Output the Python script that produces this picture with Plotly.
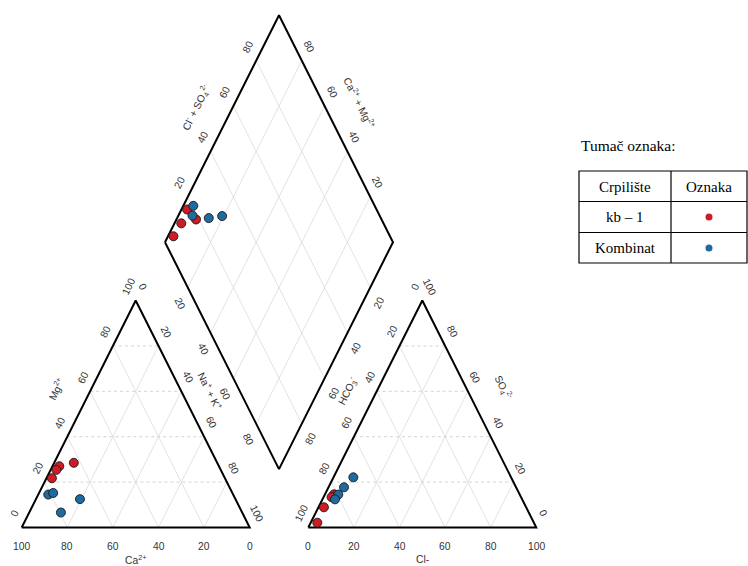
import math
import plotly.graph_objects as go

# ---------------- data (percent of meq) ----------------
sites = ["kb – 1", "kb – 1", "kb – 1", "kb – 1",
         "Kombinat", "Kombinat", "Kombinat", "Kombinat"]
ca_pct = [62.9, 70.0, 72.1, 75.9, 81.1, 78.6, 68.2, 79.5]
mg_pct = [28.5, 27.0, 25.4, 21.7, 14.5, 15.2, 12.5, 6.6]
nak_pct = [8.6, 3.0, 2.5, 2.4, 4.4, 6.2, 19.3, 13.9]
hco3_pct = [81.4, 88.7, 83.1, 95.0, 79.6, 82.1, 69.2, 75.5]
cl_pct = [4.0, 2.4, 3.5, 2.9, 5.9, 5.5, 8.7, 6.8]
so4_pct = [14.6, 8.9, 13.4, 2.1, 14.5, 12.4, 22.1, 17.7]

tick_values = [0, 20, 40, 60, 80, 100]
inner_ticks = [20, 40, 60, 80]
site_order = ["kb – 1", "Kombinat"]
legend_title = "Tumač oznaka:"
legend_headers = ["Crpilište", "Oznaka"]

# ---------------- styles ----------------
site_colors = {"kb – 1": "#cf1b26", "Kombinat": "#1f6a9e"}
FONT = "Liberation Sans, Arial, sans-serif"
SERIF = "Liberation Serif, Times New Roman, serif"
TXT = "#333333"
TICK_SIZE = 10.3

# ---------------- geometry ----------------
H = math.sqrt(3) / 2
G = 25.7
OX = 100 + G
ANG = 63.3

W, HT = 748, 566
PX0, SX, PY0, SY = 21.7, 2.28, 527.5, 2.621


def cat_xy(ca, mg, na):
    t = ca + mg + na
    return (na + mg / 2) / t * 100, mg / t * 100 * H


def an_xy(hc, cl, so):
    t = hc + cl + so
    return OX + (cl + so / 2) / t * 100, so / t * 100 * H


def dia_xy(c, a):
    lx, ly = 50 + G / 2, (G / 2 + 50) * math.sqrt(3)
    return lx + 0.5 * (a + c), ly + H * (a - c)


fig = go.Figure()

# grid lines
gx, gy, hx, hy = [], [], [], []
for v in inner_ticks:
    for off in (0, OX):
        hx += [off + v / 2, off + 100 - v / 2, None]
        hy += [v * H, v * H, None]
        gx += [off + v, off + v + (100 - v) / 2, None]
        gy += [0, (100 - v) * H, None]
        gx += [off + 100 - v, off + (100 - v) / 2, None]
        gy += [0, (100 - v) * H, None]
    p, q = dia_xy(0, v), dia_xy(100, v)
    gx += [p[0], q[0], None]; gy += [p[1], q[1], None]
    p, q = dia_xy(v, 0), dia_xy(v, 100)
    gx += [p[0], q[0], None]; gy += [p[1], q[1], None]

fig.add_trace(go.Scatter(x=gx, y=gy, mode="lines", hoverinfo="skip",
                         line=dict(color="#dadada", width=0.8), showlegend=False))
fig.add_trace(go.Scatter(x=hx, y=hy, mode="lines", hoverinfo="skip",
                         line=dict(color="#c8c8c8", width=0.8, dash="dot"), showlegend=False))

# borders
bx, by = [], []
for off in (0, OX):
    bx += [off, off + 100, off + 50, off, None]
    by += [0, 0, 100 * H, 0, None]
for c, a in [(0, 0), (0, 100), (100, 100), (100, 0), (0, 0)]:
    p = dia_xy(c, a)
    bx.append(p[0]); by.append(p[1])
fig.add_trace(go.Scatter(x=bx, y=by, mode="lines", hoverinfo="skip",
                         line=dict(color="black", width=2), showlegend=False))

# samples
for s in site_order:
    xs, ys = [], []
    for i, name in enumerate(sites):
        if name != s:
            continue
        p = cat_xy(ca_pct[i], mg_pct[i], nak_pct[i])
        q = an_xy(hco3_pct[i], cl_pct[i], so4_pct[i])
        t1 = ca_pct[i] + mg_pct[i] + nak_pct[i]
        t2 = hco3_pct[i] + cl_pct[i] + so4_pct[i]
        r = dia_xy(nak_pct[i] / t1 * 100, (cl_pct[i] + so4_pct[i]) / t2 * 100)
        for pt in (p, q, r):
            xs.append(pt[0]); ys.append(pt[1])
    fig.add_trace(go.Scatter(x=xs, y=ys, mode="markers", name=s, showlegend=False,
                             marker=dict(size=9, color=site_colors[s],
                                         line=dict(color="#1a1a1a", width=0.9))))

anns = []


def ann(x, y, text, xs=0, ys=0, angle=0, size=TICK_SIZE):
    anns.append(dict(x=x, y=y, xref="x", yref="y", text=text, showarrow=False,
                     xanchor="center", yanchor="middle",
                     xshift=xs, yshift=ys, textangle=angle,
                     font=dict(family=FONT, size=size, color=TXT)))


for v in tick_values:
    ann(100 - v, 0, str(v), 0, -18.5)                       # Ca base
    ann(v / 2, v * H, str(v), -7, 14, -ANG)                  # Mg left edge
    ann(v + (100 - v) / 2, (100 - v) * H, str(v), 7, 14, ANG)  # Na+K right edge
    ann(OX + v, 0, str(v), 0, -18.5)                         # Cl base
    ann(OX + (100 - v) / 2, (100 - v) * H, str(v), -7, 14, -ANG)  # HCO3
    ann(OX + 100 - v / 2, v * H, str(v), 7, 14, ANG)         # SO4

for v in inner_ticks:
    p = dia_xy(0, v); ann(p[0], p[1], str(v), -8, 14, -ANG)
    p = dia_xy(100 - v, 100); ann(p[0], p[1], str(v), 7, 14, ANG)
    p = dia_xy(v, 0); ann(p[0], p[1], str(v), -8, -16, ANG)
    p = dia_xy(100, 100 - v); ann(p[0], p[1], str(v), 9, -15, -ANG)

ann(50, 0, "Ca<sup>2+</sup>", 0, -32)
ann(OX + 50, 0, "Cl-", 0, -32)
ann(55 / 2, 55 * H, "Mg<sup>2+</sup>", -28.6, 14.4, -ANG)
ann(45 + 55 / 2, 55 * H, "Na<sup>+</sup> + K<sup>+</sup>", 23.2, 11.7, ANG)
ann(OX + 55 / 2, 55 * H, "HCO<sub>3</sub><sup>-</sup>", -23.2, 11.7, -ANG)
ann(OX + 100 - 55 / 2, 55 * H, "SO<sub>4</sub><sup>2-</sup>", 29.5, 14.8, ANG)
p = dia_xy(0, 53); ann(p[0], p[1], "Cl<sup>-</sup> + SO<sub>4</sub><sup>2-</sup>", -29.5, 14.8, -ANG)
p = dia_xy(45, 100); ann(p[0], p[1], "Ca<sup>2+</sup> + Mg<sup>2+</sup>", 29.5, 14.8, ANG)


# legend table (paper coordinates)
def px(x):
    return x / W


def py(y):
    return 1 - y / HT


def pann(x, y, text, size=15, xanchor="center"):
    anns.append(dict(x=px(x), y=py(y), xref="paper", yref="paper", text=text,
                     xanchor=xanchor, yanchor="middle", showarrow=False,
                     font=dict(family=SERIF, size=size, color="black")))


pann(579, 145, legend_title, 15.5, "left")
rows_y = [186.5, 217, 248]
pann(625, rows_y[0], legend_headers[0])
pann(709, rows_y[0], legend_headers[1])
shapes = []
for k, s in enumerate(site_order):
    yy = rows_y[k + 1]
    pann(625, yy, s)
    shapes.append(dict(type="circle", xref="paper", yref="paper",
                       x0=px(705.5), x1=px(712.5), y0=py(yy + 3.5), y1=py(yy - 3.5),
                       fillcolor=site_colors[s], line=dict(width=0)))

lc = dict(color="black", width=1.2)
shapes.append(dict(type="rect", xref="paper", yref="paper", x0=px(579), x1=px(747),
                   y0=py(263), y1=py(171), line=lc))
for yy in (201.5, 232.5):
    shapes.append(dict(type="line", xref="paper", yref="paper", x0=px(579), x1=px(747),
                       y0=py(yy), y1=py(yy), line=lc))
shapes.append(dict(type="line", xref="paper", yref="paper", x0=px(671), x1=px(671),
                   y0=py(171), y1=py(263), line=lc))

fig.update_layout(
    width=W, height=HT, margin=dict(l=0, r=0, t=0, b=0),
    paper_bgcolor="white", plot_bgcolor="white",
    xaxis=dict(range=[-PX0 / SX, (W - PX0) / SX], visible=False, fixedrange=True),
    yaxis=dict(range=[(PY0 - HT) / SY, PY0 / SY], visible=False, fixedrange=True),
    annotations=anns, shapes=shapes, showlegend=False,
)

fig.write_html("out.html", config={"displayModeBar": False},
               post_script="document.body.style.margin='0px';document.body.style.overflow='hidden';")
